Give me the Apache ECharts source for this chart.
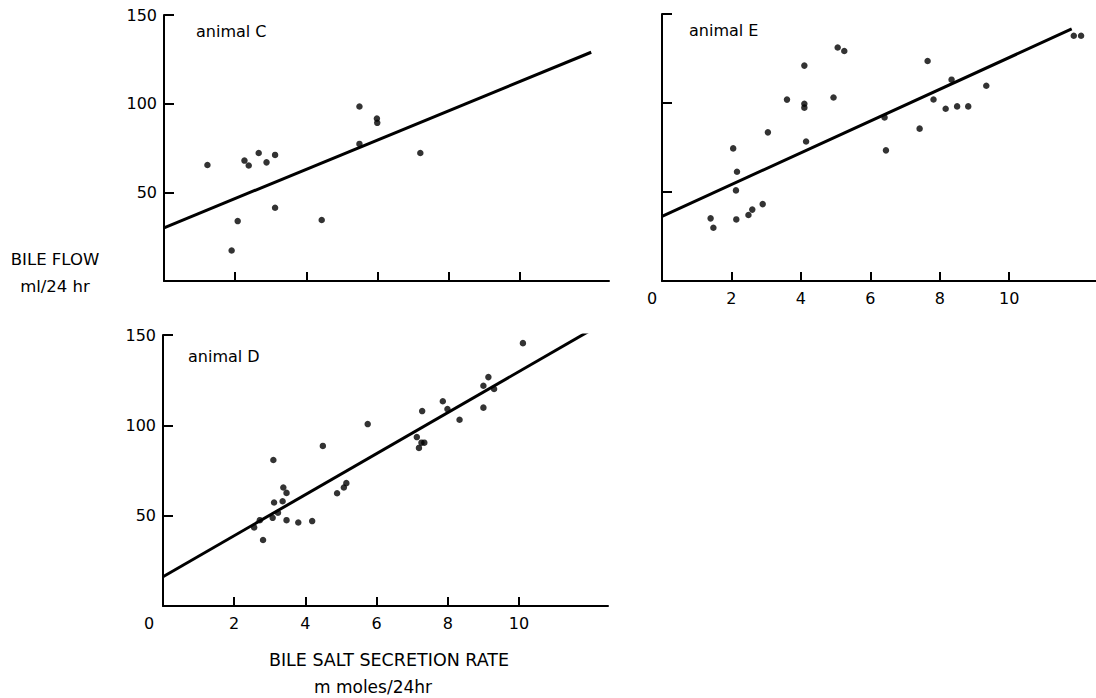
<!DOCTYPE html>
<html>
<head>
<meta charset="utf-8">
<script src="https://cdn.jsdelivr.net/npm/echarts@6/dist/echarts.min.js"></script>
<style>
html,body{margin:0;padding:0;background:#fff;}
#chart{width:1096px;height:698px;}
</style>
</head>
<body>
<div id="chart"></div>
<script>
// ---- data ----
const panelNames = ['animal C', 'animal E', 'animal D'];
const xTickLabels = [0, 2, 4, 6, 8, 10];
const xTicks = [2, 4, 6, 8, 10];
const yTickLabels = [50, 100, 150];

const pointsC = [
  [1.22, 65.4], [1.90, 17.2], [2.07, 33.8], [2.26, 67.9], [2.38, 65.1],
  [2.66, 72.2], [2.88, 66.9], [3.12, 71.1], [3.12, 41.3], [4.43, 34.4],
  [5.49, 98.4], [5.49, 77.3], [5.98, 91.6], [5.99, 89.2], [7.20, 72.2]
];
const lineC = [[0, 30], [12, 129]];

const pointsE = [
  [1.40, 35.2], [1.48, 29.9], [2.05, 74.5], [2.16, 61.4], [2.13, 50.9],
  [2.14, 34.6], [2.49, 37.1], [2.60, 40.1], [2.90, 43.2], [3.05, 83.5],
  [3.60, 101.9], [4.10, 121.0], [4.10, 99.6], [4.10, 97.4], [4.15, 78.4],
  [4.94, 103.1], [5.06, 131.2], [5.25, 129.2], [6.41, 91.9], [6.45, 73.4],
  [7.42, 85.6], [7.65, 123.6], [7.82, 102.0], [8.17, 96.8], [8.34, 113.1],
  [8.50, 98.1], [8.82, 98.1], [9.34, 109.7], [11.86, 137.8], [12.07, 137.8]
];
const lineE = [[0, 36.3], [11.8, 141.6]];

const pointsD = [
  [2.56, 43.5], [2.72, 47.5], [2.81, 36.5], [3.08, 48.8], [3.10, 80.8],
  [3.12, 57.3], [3.23, 51.6], [3.38, 65.6], [3.36, 58.0], [3.47, 62.6],
  [3.47, 47.5], [3.80, 46.2], [4.19, 47.0], [4.49, 88.6], [4.89, 62.4],
  [5.08, 65.6], [5.15, 68.0], [5.75, 100.7], [7.13, 93.5], [7.19, 87.5],
  [7.28, 107.9], [7.26, 90.4], [7.34, 90.4], [7.86, 113.3], [7.99, 109.0],
  [8.33, 103.1], [9.00, 121.9], [9.00, 109.8], [9.14, 126.7], [9.30, 120.1],
  [10.11, 145.5]
];
const lineD = [[0, 16.2], [12, 152.5]];

const yAxisTitle = ['BILE FLOW', 'ml/24 hr'];
const xAxisTitle = ['BILE SALT SECRETION RATE', 'm moles/24hr'];

// ---- chart ----
const FONT = 'DejaVu Sans';
const INK = '#000';

function xAxis(gridIndex, showLabels, zeroPad) {
  return {
    type: 'value', gridIndex: gridIndex, min: 0, max: 12.5,
    splitLine: { show: false },
    axisLine: { show: true, onZero: false, lineStyle: { color: INK, width: 2 } },
    axisTick: { show: true, inside: true, length: 9, customValues: xTicks, lineStyle: { color: INK, width: 2 } },
    axisLabel: {
      show: showLabels, customValues: xTickLabels, margin: 9,
      color: INK, fontFamily: FONT, fontSize: 16,
      formatter: function (v) { return v === 0 ? '{z|0}' : String(v); },
      rich: { z: { padding: [0, zeroPad, 0, 0], color: INK, fontFamily: FONT, fontSize: 16 } }
    }
  };
}
function yAxis(gridIndex, showLabels) {
  return {
    type: 'value', gridIndex: gridIndex, min: 0, max: 150,
    splitLine: { show: false },
    axisLine: { show: true, onZero: false, lineStyle: { color: INK, width: 2 } },
    axisTick: { show: true, inside: true, length: 10, customValues: yTickLabels, lineStyle: { color: INK, width: 2 } },
    axisLabel: {
      show: showLabels, customValues: yTickLabels, margin: 7,
      color: INK, fontFamily: FONT, fontSize: 16
    }
  };
}
function scatter(i, data) {
  return { type: 'scatter', xAxisIndex: i, yAxisIndex: i, data: data,
    symbol: 'circle', symbolSize: 6.5, itemStyle: { color: INK }, silent: true, z: 3 };
}
function fit(i, data) {
  return { type: 'line', xAxisIndex: i, yAxisIndex: i, data: data,
    showSymbol: false, lineStyle: { color: INK, width: 3 }, silent: true, z: 2 };
}

function txt(text, x, y, size, align) {
  return { type: 'text', x: x, y: y,
    style: { text: text, fill: INK, font: size + 'px "' + FONT + '"', textAlign: align || 'left', textVerticalAlign: 'middle' } };
}

const chart = echarts.init(document.getElementById('chart'), null, { renderer: 'svg' });
chart.setOption({
  backgroundColor: '#fff',
  animation: false,
  grid: [
    { left: 164, top: 15, width: 445, height: 266 },
    { left: 662, top: 14, width: 444, height: 267 },
    { left: 163, top: 335, width: 445, height: 271 }
  ],
  xAxis: [xAxis(0, false, 28), xAxis(1, true, 20), xAxis(2, true, 28)],
  yAxis: [yAxis(0, true), yAxis(1, false), yAxis(2, true)],
  series: [
    scatter(0, pointsC), fit(0, lineC),
    scatter(1, pointsE), fit(1, lineE),
    scatter(2, pointsD), fit(2, lineD)
  ],
  graphic: [
    txt(panelNames[0], 196, 31, 16),
    txt(panelNames[1], 689, 30, 16),
    txt(panelNames[2], 188, 356, 16),
    txt(yAxisTitle[0], 55, 259, 16.5, 'center'),
    txt(yAxisTitle[1], 55, 286, 16.5, 'center'),
    txt(xAxisTitle[0], 389, 660, 17.5, 'center'),
    txt(xAxisTitle[1], 373, 687, 17, 'center')
  ]
});
</script>
</body>
</html>
